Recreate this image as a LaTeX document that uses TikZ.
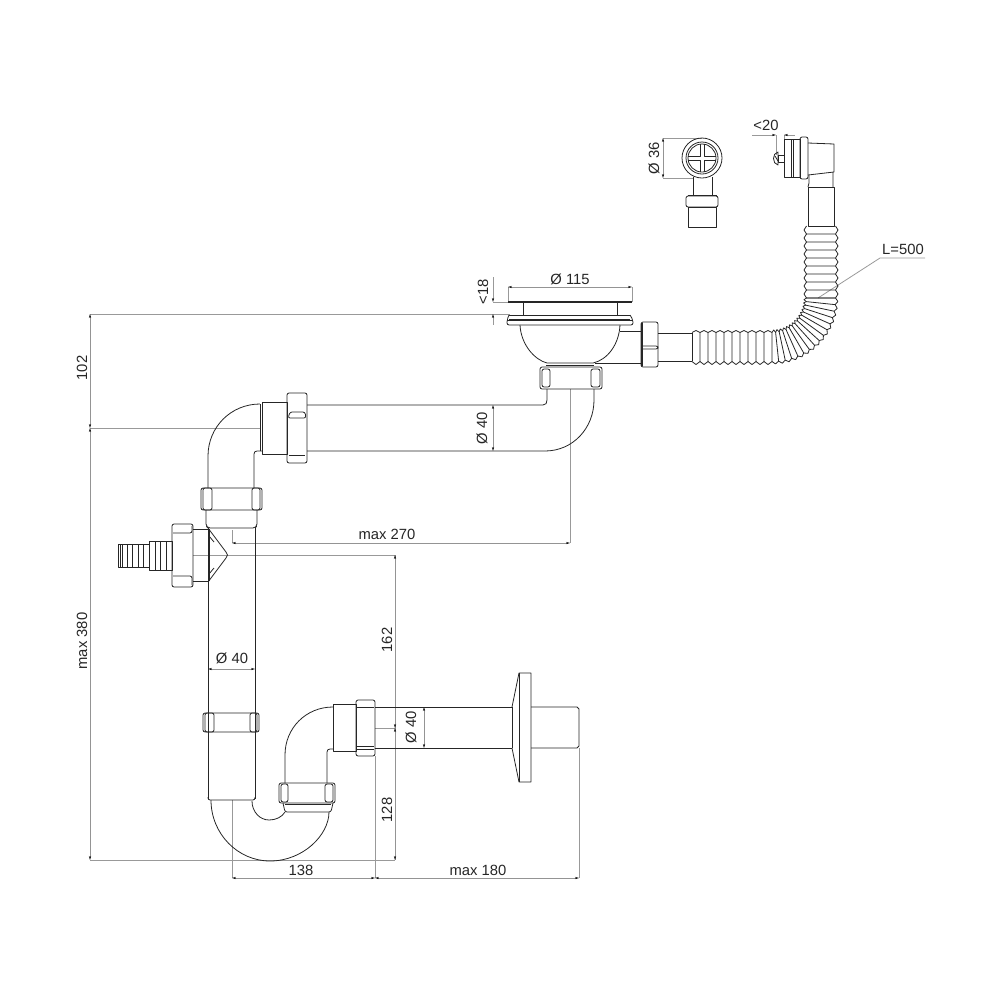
\documentclass[tikz,border=0pt]{standalone}
\usepackage{fontspec}
\setmainfont{Liberation Sans}
\usetikzlibrary{arrows.meta}
\tikzstyle{part} = [draw=black!85, line width=0.6pt, line join=round]
\tikzstyle{heavy} = [draw=black!85, line width=1.1pt]
\tikzstyle{nut} = [part, rounded corners=1.6pt]
\tikzstyle{dimline} = [draw=black!42, line width=0.6pt, {Stealth[length=3pt,width=1.6pt,black]}-{Stealth[length=3pt,width=1.6pt,black]}]
\tikzstyle{extline} = [draw=black!40, line width=0.6pt]
\tikzstyle{dimtext} = [inner sep=0pt, font=\fontsize{11.1}{13}\selectfont, text=black!85]
\tikzstyle{dimside} = [dimtext, rotate=90]

\begin{document}
\begin{tikzpicture}[x=0.75pt, y=-0.75pt]
        \useasboundingbox (0,0) rectangle (1000,1000);
        % extension lines
        \draw[extline] (90,314) -- (510,314);
        \draw[extline] (90,428) -- (261,428);
        \draw[extline] (90,860) -- (395,860);
        \draw[extline] (193,555) -- (395,555) -- (395,860);
        \draw[extline] (375,728) -- (395,728);
        \draw[extline] (570,389) -- (570,543);
        \draw[extline] (232,530) -- (232,543);
        \draw[extline] (232,800) -- (232,878);
        \draw[extline] (375,756) -- (375,878);
        \draw[extline] (579,748) -- (579,878);
        \draw[extline] (493,302) -- (508,302);
        \draw[extline] (508,287) -- (508,302);
        \draw[extline] (632,287) -- (632,302);
        \draw[extline] (663,138) -- (702,138);
        \draw[extline] (663,178) -- (693,178);
        \draw[extline] (776,135) -- (776,155);
        \draw[extline] (784,135) -- (784,139);
        \draw[extline] (818,298) -- (880,258) -- (925,258);
        % dimensions
        \draw[dimline] (90,314) -- (90,428);
        \draw[dimline] (90,428) -- (90,860);
        \draw[dimline] (232,543) -- (570,543);
        \draw[dimline] (395,555) -- (395,728);
        \draw[dimline] (395,728) -- (395,860);
        \draw[dimline] (232,878) -- (375,878);
        \draw[dimline] (375,878) -- (579,878);
        \draw[dimline] (493,405) -- (493,451);
        \draw[dimline] (424,707) -- (424,748);
        \draw[dimline] (208,669) -- (255,669);
        \draw[dimline] (508,287) -- (632,287);
        \draw[dimline] (663,138) -- (663,178);
        \draw[extline, -{Stealth[length=3pt,width=1.6pt,black]}] (493,277) -- (493,302);
        \draw[extline, {Stealth[length=3pt,width=1.6pt,black]}-] (493,314) -- (493,325);
        \draw[extline, -{Stealth[length=3pt,width=1.6pt,black]}] (752,135) -- (776,135);
        \draw[extline, {Stealth[length=3pt,width=1.6pt,black]}-] (784,135) -- (795,135);
        \node[dimside] (top102) at (82,368) {102};
        \node[dimside] (max380) at (82,641) {max 380};
        \node[dimtext] (max270) at (387,534) {max 270};
        \node[dimside] (side162) at (387,640) {162};
        \node[dimside] (side128) at (387,810) {128};
        \node[dimtext] (w138) at (301,870) {138};
        \node[dimtext] (max180) at (478,870) {max 180};
        \node[dimside] (dia40a) at (482,428) {Ø 40};
        \node[dimside] (dia40b) at (411,727) {Ø 40};
        \node[dimtext] (dia40c) at (232,658) {Ø 40};
        \node[dimtext] (dia115) at (570,279) {Ø 115};
        \node[dimside] (lt18) at (483,292) {<18};
        \node[dimside] (dia36) at (654,158) {Ø 36};
        \node[dimtext] (lt20) at (766,125) {<20};
        \node[dimtext] (len500) at (903,249) {L=500};
        % strainer
        \draw[heavy] (508,302) -- (632,302);
        \draw[part] (523,302) -- (523,315) (617,302) -- (617,315);
        \draw[part] (509,315) -- (630,315) (509,319) -- (630,319);
        \draw[nut] (509,315) -- (507,320) -- (507,325) -- (633,325) -- (633,320) -- (630,315);
        \draw[part] (507,320) -- (633,320);
        \draw[part] (520,325) .. controls (521,345) and (535,360) .. (547,363) -- (593,363) .. controls (607,360) and (619,345) .. (620,325);
        \draw[heavy] (546,365.5) -- (594,365.5);
        \draw[part] (620,331) -- (641,331) (595,363) -- (641,363);
        % strainer nuts
        \draw[nut] (641,322) rectangle (658,367);
        \draw[heavy] (642,323) -- (642,366);
        \draw[nut] (642,346) -- (658,346) -- (658,349) -- (642,349);
        \draw[nut] (540,367) rectangle (602,389);
        \draw[nut] (542,369) rectangle (550,387);
        \draw[nut] (591,369) rectangle (600,387);
        % outlet pipe with elbows
        \draw[part] (658,333) -- (692,333) (658,361) -- (692,361);
        \draw[part] (307,405) -- (543,405) .. controls (546,405) and (547,403) .. (547,400) -- (547,389);
        \draw[part] (307,451) -- (545,451) .. controls (573,451) and (594,428) .. (594,400) -- (594,389);
        \draw[nut] (287,393) rectangle (307,463);
        \draw[nut] (288,418) -- (290,412) -- (305,412) -- (306,418) -- cycle;
        \draw[part] (289,455) -- (305,455);
        \draw[part] (262,402) rectangle (287,454);
        \draw[part] (260,404) -- (260,451);
        \draw[part] (260,404) .. controls (231,404) and (208,427) .. (208,456) -- (208,488);
        \draw[part] (254,488) -- (254,454) .. controls (254,452) and (255,451) .. (257,451) -- (262,451);
        \draw[nut] (201,488) rectangle (262,510);
        \draw[nut] (212,488) rectangle (203,510);
        \draw[nut] (252,488) rectangle (260,510);
        \draw[nut] (206,510) -- (206,526) -- (208,528) -- (255,528) -- (257,526) -- (257,510);
        % tee and drain branch
        \draw[part] (208,528) -- (208,799) (255,528) -- (255,799);
        \draw[part] (208,529) -- (193,529) (208,581) -- (193,581);
        \draw[part] (209,529) -- (209,581);
        \draw[part] (208,528) -- (226,552) .. controls (228,554) and (228,556) .. (226,558) -- (208,582);
        \draw[part] (209,536) -- (214,542) (209,574) -- (214,568);
        \draw[nut] (172,524) rectangle (193,587);
        \draw[nut] (173,533) -- (192,533) -- (192,526);
        \draw[nut] (173,576) -- (192,576) -- (192,585);
        \draw[part] (149,541) rectangle (172,570);
        \draw[part] (118,544) rectangle (149,567);
        \foreach \ribx in {155,160,166} {
            \draw[part] (\ribx,541) -- (\ribx,570);
        }
        \foreach \ribx in {120,122,127,132,138,143} {
            \draw[part] (\ribx,544) -- (\ribx,567);
        }
        % lower collar and trap
        \draw[nut] (203,713) rectangle (259,732);
        \draw[nut] (205,713) rectangle (214,732);
        \draw[nut] (250,713) rectangle (257,732);
        \draw[nut] (208,797) -- (208,800) -- (255,800) -- (255,797);
        \draw[part] (211,800) .. controls (211,834) and (238,861) .. (270,861) .. controls (303,861) and (329,835) .. (329,812);
        \draw[part] (252,801) .. controls (252,812) and (260,820) .. (269,820) .. controls (276,820) and (282,817) .. (285,812);
        \draw[nut] (279,783) rectangle (335,803);
        \draw[nut] (281,784) rectangle (288,802);
        \draw[nut] (325,784) rectangle (333,802);
        \draw[heavy] (285,804.5) -- (331,804.5);
        \draw[nut] (283,803) -- (285,812) -- (331,812) -- (333,803);
        \draw[part] (285,783) -- (285,755) .. controls (285,728) and (306,707) .. (333,707);
        \draw[part] (327,783) -- (327,752) .. controls (327,750) and (328,749) .. (330,749) -- (333,749);
        \draw[part] (333,704) rectangle (356,751);
        \draw[nut] (356,700) rectangle (375,756);
        \draw[part] (357,707) -- (374,707) (357,746) -- (374,746) (357,749) -- (374,749);
        % wall pipe and flange
        \draw[part] (375,707) -- (512,707) (375,748) -- (512,748);
        \draw[part] (531,707) -- (577,707) -- (579,709) -- (579,746) -- (577,748) -- (531,748);
        \draw[part] (512,707) -- (512,748);
        \draw[part] (512,707) -- (519,673) -- (531,673) -- (531,782) -- (519,782) -- (512,748);
        \draw[part] (519,673) -- (519,782);
        % overflow view
        \draw[part] (702,158) circle (20);
        \draw[part] (702,158) circle (16);
        \draw[part] (702,158) circle (14);
        \draw[part] (700,144) -- (700,156) -- (688,156) (704,144) -- (704,156) -- (716,156);
        \draw[part] (700,172) -- (700,160) -- (688,160) (704,172) -- (704,160) -- (716,160);
        \draw[part] (693,177) -- (693,195) (712,177) -- (712,195);
        \draw[heavy] (688,195.5) -- (717,195.5);
        \draw[nut] (686,196) rectangle (718,207);
        \draw[part] (688,207) rectangle (716,227);
        % overflow side
        \draw[part] (784,139) rectangle (800,177);
        \draw[part] (791,139) -- (791,177) (793,139) -- (793,177);
        \draw[nut] (800,137) rectangle (808,179);
        \draw[part] (808,143) -- (834,144) -- (834,172) -- (808,175);
        \draw[part] (809,175) -- (809,183) -- (808,187) (833,172) -- (833,187);
        \draw[part] (808,187) rectangle (834,226);
        \draw[part] (778,155) rectangle (784,162);
        \draw[part] (778,152) .. controls (772,153) and (772,164) .. (778,165) -- cycle;
        \draw[part] (775,156) -- (778,161);
        % corrugated hose, straight runs
        \draw[part] (692,333) -- (692,361);
        \foreach \i in {0,...,9} {
            \pgfmathsetmacro{\xa}{692+8*\i}
            \pgfmathsetmacro{\xb}{\xa+4}
            \pgfmathsetmacro{\xc}{\xa+8}
            \draw[part] (\xa,332.5) -- (\xb,330.5) -- (\xc,332.5) -- (\xc,361.5) -- (\xb,364.5) -- (\xa,361.5);
        }
        \foreach \i in {0,...,8} {
            \pgfmathsetmacro{\ya}{226+8*\i}
            \pgfmathsetmacro{\yb}{\ya+4}
            \pgfmathsetmacro{\yc}{\ya+8}
            \draw[part] (806.5,\ya) -- (804,\yb) -- (806.5,\yc) -- (835.5,\yc) -- (838,\yb) -- (835.5,\ya);
        }
        % corrugated hose, bend
        \foreach \i in {0,...,14} {
            \pgfmathsetmacro{\ta}{6*\i}
            \pgfmathsetmacro{\tb}{\ta+3}
            \pgfmathsetmacro{\tc}{\ta+6}
            \draw[part] ({772+34.5*sin(\ta)},{298+34.5*cos(\ta)}) -- ({772+32*sin(\tb)},{298+32*cos(\tb)})
                -- ({772+34.5*sin(\tc)},{298+34.5*cos(\tc)}) -- ({772+63.5*sin(\tc)},{298+63.5*cos(\tc)})
                -- ({772+66*sin(\tb)},{298+66*cos(\tb)}) -- ({772+63.5*sin(\ta)},{298+63.5*cos(\ta)});
        }
    \end{tikzpicture}
\end{document}
